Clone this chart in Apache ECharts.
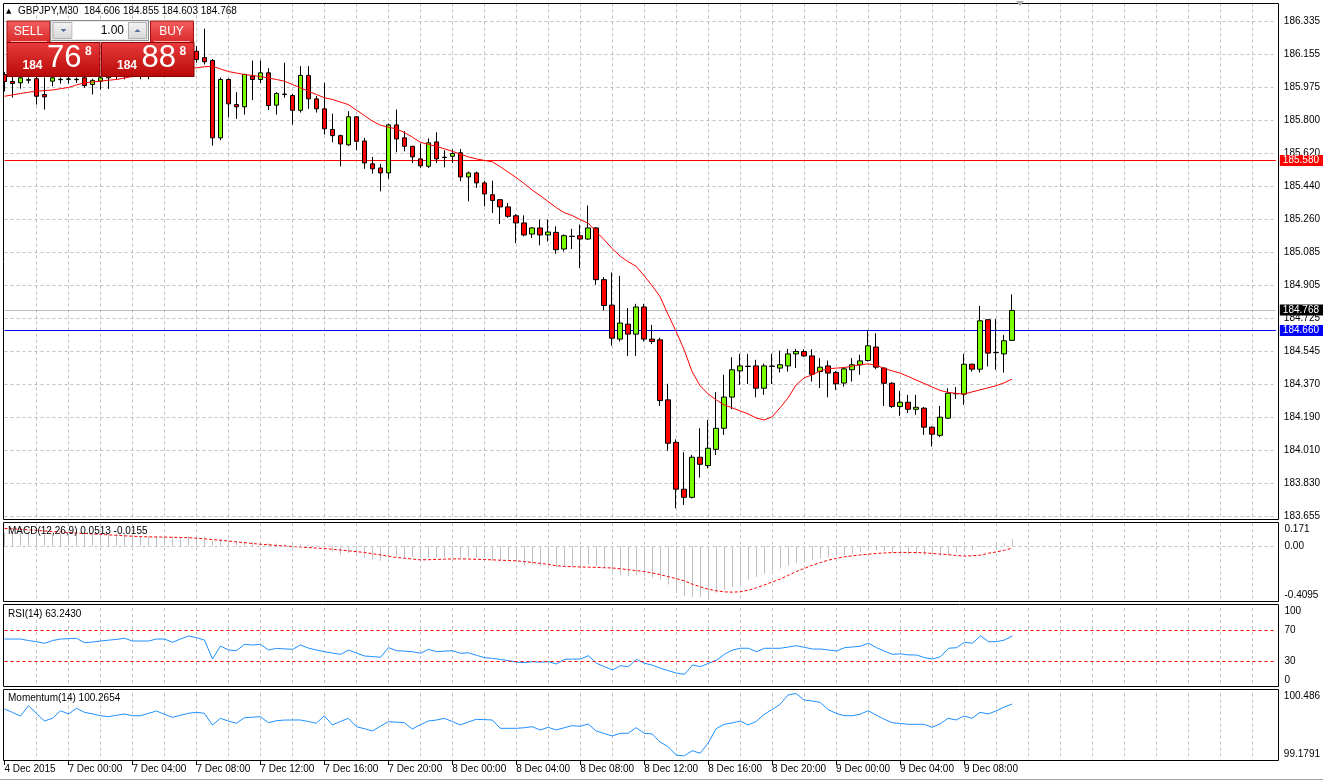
<!DOCTYPE html>
<html><head><meta charset="utf-8">
<script src="https://cdn.jsdelivr.net/npm/echarts@6/dist/echarts.min.js"></script>
<style>html,body{margin:0;padding:0;background:#fff}#c{width:1323px;height:781px}</style>
</head><body><div id="c"></div>
<script>
const symbolTitle = 'GBPJPY,M30  184.606 184.855 184.603 184.768';
const opens = [186.046,186.008,186.001,186.015,186.023,185.938,186.010,186.018,186.020,186.018,
 186.028,185.992,186.010,186.028,186.035,186.064,186.103,186.069,186.059,186.058,
 186.148,186.121,186.050,186.078,186.172,186.137,186.122,185.703,186.019,185.883,
 185.871,186.037,186.019,186.055,185.880,185.938,185.932,185.852,186.041,185.914,
 185.860,185.748,185.715,185.665,185.817,185.686,185.562,185.540,185.513,185.773,
 185.703,185.657,185.589,185.549,185.681,185.598,185.603,185.622,185.491,185.513,
 185.459,185.395,185.368,185.329,185.281,185.242,185.182,185.215,185.177,185.191,
 185.101,185.169,185.173,185.155,185.215,184.935,184.797,184.613,184.694,184.640,
 184.787,184.613,184.609,184.284,184.054,183.800,183.756,183.973,183.928,184.016,
 184.130,184.299,184.441,184.465,184.468,184.347,184.465,184.456,184.468,184.533,
 184.546,184.522,184.437,184.468,184.432,184.375,184.447,184.474,184.497,184.570,
 184.456,184.374,184.248,184.271,184.233,184.239,184.136,184.092,184.185,184.317,
 184.315,184.477,184.450,184.718,184.540,184.533,184.606];
const highs = [186.060,186.035,186.040,186.030,186.040,186.030,186.040,186.030,186.035,186.030,
 186.050,186.023,186.037,186.060,186.080,186.120,186.130,186.100,186.090,186.170,
 186.180,186.140,186.100,186.170,186.200,186.294,186.130,186.030,186.025,185.950,
 186.050,186.122,186.122,186.080,185.950,186.110,185.940,186.091,186.091,185.930,
 186.000,185.834,185.720,185.847,185.820,185.703,185.600,185.562,185.780,185.856,
 185.739,185.660,185.672,185.700,185.733,185.636,185.640,185.643,185.520,185.520,
 185.470,185.471,185.372,185.350,185.290,185.283,185.220,185.260,185.260,185.224,
 185.180,185.210,185.233,185.336,185.220,184.949,184.974,184.956,184.781,184.804,
 184.804,184.690,184.620,184.371,184.070,184.000,183.986,184.130,184.175,184.326,
 184.420,184.515,184.533,184.533,184.501,184.480,184.533,184.551,184.560,184.560,
 184.558,184.558,184.510,184.497,184.440,184.460,184.510,184.528,184.663,184.645,
 184.460,184.380,184.333,184.311,184.311,184.245,184.140,184.251,184.347,184.353,
 184.533,184.480,184.793,184.721,184.721,184.636,184.855];
const lows = [185.954,185.921,185.969,185.997,185.883,185.856,185.982,185.997,185.997,186.000,
 185.974,185.938,185.965,185.968,186.020,186.020,186.050,186.020,186.020,186.050,
 186.100,186.040,186.040,186.060,186.110,186.100,185.661,185.690,185.814,185.806,
 185.829,185.907,186.000,185.853,185.829,185.920,185.775,185.840,185.860,185.840,
 185.721,185.679,185.549,185.660,185.636,185.535,185.509,185.413,185.481,185.625,
 185.630,185.567,185.540,185.540,185.567,185.543,185.567,185.468,185.359,185.432,
 185.332,185.296,185.236,185.270,185.133,185.170,185.161,185.121,185.142,185.075,
 185.088,185.101,184.998,185.150,184.907,184.768,184.578,184.600,184.522,184.522,
 184.600,184.587,184.251,184.009,183.697,183.715,183.750,183.863,183.913,183.986,
 184.094,184.233,184.365,184.370,184.298,184.311,184.370,184.432,184.437,184.456,
 184.516,184.383,184.348,184.298,184.338,184.356,184.383,184.420,184.491,184.450,
 184.251,184.240,184.197,184.213,184.203,184.094,184.031,184.082,184.180,184.289,
 184.257,184.437,184.432,184.465,184.447,184.432,184.603];
const closes = [186.008,185.997,186.028,186.018,185.928,185.925,186.028,186.020,186.022,186.020,
 185.986,186.014,186.028,186.035,186.064,186.103,186.069,186.059,186.058,186.148,
 186.121,186.050,186.078,186.154,186.127,186.115,185.703,186.019,185.887,185.871,
 186.046,186.019,186.055,185.878,185.943,185.940,185.852,186.041,185.914,185.860,
 185.752,185.715,185.670,185.817,185.684,185.567,185.535,185.513,185.773,185.697,
 185.657,185.600,185.551,185.676,185.589,185.597,185.618,185.491,185.513,185.459,
 185.399,185.364,185.329,185.278,185.242,185.177,185.215,185.177,185.193,185.097,
 185.173,185.170,185.155,185.215,184.935,184.795,184.618,184.700,184.640,184.787,
 184.613,184.600,184.280,184.049,183.800,183.756,183.973,183.935,184.022,184.130,
 184.299,184.447,184.468,184.466,184.347,184.468,184.467,184.474,184.533,184.546,
 184.522,184.423,184.461,184.429,184.371,184.452,184.474,184.495,184.577,184.461,
 184.374,184.248,184.271,184.233,184.244,184.136,184.098,184.190,184.320,184.318,
 184.477,184.450,184.712,184.537,184.541,184.604,184.768];
const maValues = [185.928,185.936,185.943,185.950,185.955,185.959,185.962,185.969,185.976,185.989,
 186.001,186.005,186.010,186.015,186.019,186.027,186.035,186.043,186.051,186.058,
 186.065,186.070,186.075,186.080,186.082,186.088,186.091,186.076,186.062,186.054,
 186.046,186.041,186.035,186.027,186.019,186.010,185.992,185.974,185.955,185.938,
 185.920,185.911,185.897,185.883,185.854,185.824,185.794,185.772,185.760,185.752,
 185.732,185.707,185.679,185.668,185.657,185.644,185.630,185.615,185.600,185.589,
 185.581,185.573,185.547,185.517,185.488,185.455,185.420,185.390,185.358,185.325,
 185.298,185.282,185.260,185.241,185.195,185.151,185.103,185.062,185.032,185.007,
 184.956,184.902,184.842,184.745,184.654,184.555,184.436,184.360,184.316,184.284,
 184.257,184.241,184.224,184.208,184.186,184.175,184.192,184.241,184.295,184.365,
 184.403,184.419,184.441,184.452,184.456,184.459,184.466,184.474,184.479,184.471,
 184.455,184.441,184.429,184.411,184.392,184.373,184.354,184.335,184.325,184.319,
 184.315,184.327,184.338,184.349,184.360,184.376,184.396];
const macdMain = [0.100,0.099,0.098,0.097,0.092,0.087,0.088,0.089,0.090,0.091,
 0.089,0.089,0.090,0.090,0.091,0.092,0.090,0.075,0.072,0.075,
 0.075,0.070,0.070,0.073,0.072,0.068,0.040,0.050,0.042,0.030,
 0.035,0.033,0.032,0.020,0.018,0.016,0.010,0.017,0.012,0.005,
 -0.012,-0.042,-0.0675,-0.055,-0.0675,-0.087,-0.105,-0.1125,-0.087,-0.0795,
 -0.092,-0.087,-0.092,-0.087,-0.087,-0.087,-0.092,-0.087,-0.087,-0.092,
 -0.092,-0.1125,-0.117,-0.117,-0.117,-0.147,-0.1425,-0.1545,-0.1425,-0.162,
 -0.1545,-0.1545,-0.1545,-0.1425,-0.1545,-0.167,-0.192,-0.2175,-0.2295,-0.2175,
 -0.2295,-0.242,-0.255,-0.2925,-0.355,-0.3795,-0.387,-0.387,-0.4095,-0.355,
 -0.330,-0.310,-0.280,-0.255,-0.235,-0.210,-0.190,-0.170,-0.150,-0.130,
 -0.115,-0.105,-0.095,-0.085,-0.078,-0.068,-0.058,-0.048,-0.035,-0.035,
 -0.040,-0.050,-0.055,-0.060,-0.062,-0.070,-0.078,-0.075,-0.062,-0.055,
 -0.040,-0.032,-0.008,0.000,0.008,0.020,0.0513];
const macdSignal = [0.133,0.130,0.126,0.122,0.118,0.114,0.110,0.106,0.102,0.098,
 0.095,0.091,0.088,0.084,0.081,0.077,0.074,0.0705,0.069,0.068,
 0.067,0.066,0.064,0.063,0.059,0.054,0.048,0.043,0.0375,0.031,
 0.025,0.019,0.013,0.009,0.004,0.000,-0.0045,-0.008,-0.012,-0.016,
 -0.020,-0.025,-0.031,-0.037,-0.043,-0.0495,-0.059,-0.068,-0.078,-0.087,
 -0.093,-0.099,-0.105,-0.104,-0.102,-0.100,-0.098,-0.0975,-0.099,-0.101,
 -0.103,-0.105,-0.108,-0.110,-0.1125,-0.119,-0.125,-0.132,-0.140,-0.150,
 -0.155,-0.157,-0.159,-0.161,-0.162,-0.165,-0.167,-0.173,-0.180,-0.187,
 -0.194,-0.205,-0.218,-0.233,-0.248,-0.265,-0.290,-0.310,-0.328,-0.340,
 -0.348,-0.350,-0.347,-0.335,-0.317,-0.295,-0.272,-0.250,-0.222,-0.193,
 -0.170,-0.145,-0.126,-0.107,-0.094,-0.082,-0.075,-0.068,-0.062,-0.057,
 -0.053,-0.050,-0.049,-0.049,-0.0495,-0.052,-0.057,-0.062,-0.066,-0.072,
 -0.077,-0.074,-0.070,-0.055,-0.045,-0.032,-0.0155];
const rsiValues = [59,59,59,57,55.5,53.4,57,59,59.5,60,
 54.2,55,56.4,57.5,58.5,60,56.4,56.4,56.4,59,
 59,54.7,59,63,60.8,57.7,32.6,49.8,44.5,43.6,
 52,51.1,52,44.5,46.7,46,45.4,51.1,47,44.5,
 42.3,40.5,38.8,44.5,40.5,36.6,35.8,34.9,47.6,43.6,
 43,42.3,40.2,45.4,42.3,43,43.6,40.2,40.8,37.5,
 34.4,33.5,32,30.5,28.5,27.8,29.1,28.5,29.1,26,
 32.2,32.5,32.6,37,27,22.5,18.1,23.8,22.5,32.2,
 27,24.5,20.4,17.2,14,12.4,24.7,22.5,27,31,
 39,44.5,46.8,46.8,42.3,46.8,46.8,46.8,48.5,50.2,
 48,45.8,45.8,44.5,43.2,47.6,48.5,49.5,53.4,47.6,
 43,38.8,39.5,38,37.9,34.5,32.6,35.7,46.8,47.6,
 54.7,53.4,63.4,55.5,55.5,57.7,63.243];
const momValues = [100.162,100.09,100.015,100.231,100.07,99.911,99.967,100.126,100.057,100.176,
 100.093,100.06,100.022,100.001,100.03,100.057,100.022,100.022,100.07,100.12,
 100.05,99.988,100.03,100.072,100.093,100.072,99.827,99.967,99.91,99.863,
 99.98,99.99,100.001,99.876,99.917,99.93,99.932,99.932,99.9,99.863,
 100.022,99.827,99.9,99.967,99.792,99.75,99.702,99.8,99.896,99.886,
 99.876,99.744,99.83,99.911,99.93,99.967,99.9,99.827,99.89,99.946,
 99.94,99.932,99.758,99.758,99.758,99.77,99.792,99.723,99.779,99.723,
 99.77,99.813,99.8,99.848,99.702,99.65,99.597,99.654,99.654,99.771,
 99.654,99.639,99.47,99.374,99.2,99.1791,99.29,99.236,99.45,99.75,
 99.842,99.87,99.911,99.827,99.9,100.05,100.15,100.26,100.455,100.486,
 100.35,100.33,100.302,100.15,100.072,100.022,100.022,100.05,100.126,100.036,
 99.95,99.876,99.86,99.842,99.842,99.842,99.779,99.85,99.967,99.932,
 100.015,99.967,100.093,100.057,100.12,100.2,100.2654];
const priceTickLabels = ['183.655','183.830','184.010','184.190','184.370','184.545','184.725','184.905','185.085','185.260','185.440','185.620','185.800','185.975','186.155','186.335'];
const xTickLabels = ['4 Dec 2015','7 Dec 00:00','7 Dec 04:00','7 Dec 08:00','7 Dec 12:00','7 Dec 16:00','7 Dec 20:00','8 Dec 00:00','8 Dec 04:00','8 Dec 08:00','8 Dec 12:00','8 Dec 16:00','8 Dec 20:00','9 Dec 00:00','9 Dec 04:00','9 Dec 08:00'];
const levelLines = [{value:185.580, label:'185.580', color:'#ff0000'},{value:184.660, label:'184.660', color:'#0000ff'}];
const bidPrice = {value:184.768, label:'184.768'};
const macdLabels = {max:0.171, zero:0, min:-0.4095};
const momRange = {min:99.1791, max:100.486};
const indicatorNames = ['MACD(12,26,9) 0.0513 -0.0155','RSI(14) 63.2430','Momentum(14) 100.2654'];
const ticket = {lot:'1.00', sellBig:'76', buyBig:'88', handle:'184', pip:'8'};

// categories: bar times (30-minute bars, weekend gap after 4 Dec 23:30)
const barTimes = [];
for (let i = 0; i < closes.length; i++) {
  let day, m;
  if (i < 8) { day = 4; m = 20 * 60 + i * 30; }
  else { const t = (i - 8) * 30; day = 7 + Math.floor(t / 1440); m = t % 1440; }
  barTimes.push(day + ' Dec ' + String(Math.floor(m / 60)).padStart(2, '0') + ':' + String(m % 60).padStart(2, '0'));
}
const SLOTS = 160;
const cats = barTimes.concat(new Array(SLOTS - barTimes.length).fill(''));
const candleData = opens.map((o, i) => [o, closes[i], lows[i], highs[i]]);

const FONT = '"Liberation Sans", Arial, sans-serif';
const GL = 4.5, GW = 1272;
const grids = [
  {left: GL, width: GW, top: 3.5, height: 512.5},
  {left: GL, width: GW, top: 523.4, height: 76.6},
  {left: GL, width: GW, top: 608, height: 75.7},
  {left: GL, width: GW, top: 693.5, height: 62.5}
];
const gridDash = {color: '#c0c0c0', type: [3, 3], width: 1};
function xAx(idx, last) {
  return {
    type: 'category', gridIndex: idx, data: cats, boundaryGap: false,
    axisLine: {show: false},
    axisTick: last ? {show: true, length: 4, interval: (i) => i % 8 === 0 && i / 8 < xTickLabels.length, lineStyle: {color: '#000'}} : {show: false},
    axisLabel: last ? {
      show: true, interval: (i) => i % 8 === 0 && i / 8 < xTickLabels.length,
      formatter: (v, i) => (i % 8 === 0 && i / 8 < xTickLabels.length) ? xTickLabels[i / 8] : '',
      align: 'left', margin: 3, fontSize: 10, color: '#000', fontFamily: FONT
    } : {show: false},
    offset: last ? 5 : 0,
    splitLine: {show: true, interval: (i) => i > 0 && i % 4 === 0, lineStyle: gridDash}
  };
}
const labelBase = {fontSize: 10, color: '#000', fontFamily: FONT, margin: 8};
const PMIN = 183.655, PSTEP = (186.335 - 183.655) / 15;

const option = {
  animation: false,
  backgroundColor: '#fff',
  grid: grids,
  xAxis: [xAx(0, false), xAx(1, false), xAx(2, false), xAx(3, true)],
  yAxis: [
    {type: 'value', gridIndex: 0, position: 'right', min: PMIN, max: 186.4305, interval: PSTEP,
      axisLine: {show: false}, axisTick: {show: false},
      axisLabel: Object.assign({}, labelBase, {formatter: (v) => {
        const k = Math.round((v - PMIN) / PSTEP);
        return (k >= 0 && k < priceTickLabels.length && Math.abs(v - (PMIN + k * PSTEP)) < 1e-4) ? priceTickLabels[k] : '';
      }}),
      splitLine: {show: true, lineStyle: gridDash}},
    {type: 'value', gridIndex: 1, position: 'right', min: macdLabels.min, max: macdLabels.max, interval: -macdLabels.min,
      axisLine: {show: false}, axisTick: {show: false}, splitLine: {show: false},
      axisLabel: Object.assign({}, labelBase, {
        formatter: (v) => Math.abs(v - macdLabels.max) < 1e-6 ? '{t|0.171}' : (Math.abs(v) < 1e-6 ? '0.00' : (Math.abs(v - macdLabels.min) < 1e-6 ? '{b|-0.4095}' : '')),
        rich: {t: {padding: [11, 0, 0, 0], fontSize: 10, fontFamily: FONT, color: '#000'}, b: {padding: [0, 0, 10, 0], fontSize: 10, fontFamily: FONT, color: '#000'}}
      })},
    {type: 'value', gridIndex: 2, position: 'right', min: 0, max: 100, interval: 10,
      axisLine: {show: false}, axisTick: {show: false}, splitLine: {show: false},
      axisLabel: Object.assign({}, labelBase, {
        formatter: (v) => v === 100 ? '{t|100}' : (v === 70 ? '70' : (v === 30 ? '30' : (v === 0 ? '{b|0}' : ''))),
        rich: {t: {padding: [7, 0, 0, 0], fontSize: 10, fontFamily: FONT, color: '#000'}, b: {padding: [0, 0, 7, 0], fontSize: 10, fontFamily: FONT, color: '#000'}}
      })},
    {type: 'value', gridIndex: 3, position: 'right', min: momRange.min, max: momRange.max, interval: +(momRange.max - momRange.min).toFixed(4),
      axisLine: {show: false}, axisTick: {show: false}, splitLine: {show: false},
      axisLabel: Object.assign({}, labelBase, {
        formatter: (v) => Math.abs(v - momRange.max) < 1e-4 ? '{t|100.486}' : (Math.abs(v - momRange.min) < 1e-4 ? '{b|99.1791}' : ''),
        rich: {t: {padding: [6, 0, 0, 0], fontSize: 10, fontFamily: FONT, color: '#000'}, b: {padding: [0, 0, 4, 0], fontSize: 10, fontFamily: FONT, color: '#000'}}
      })}
  ],
  series: [
    {type: 'candlestick', xAxisIndex: 0, yAxisIndex: 0, data: candleData, barWidth: 5, clip: false,
      itemStyle: {color: '#7cfc00', color0: '#ff0000', borderColor: '#000', borderColor0: '#000', borderWidth: 1},
      markLine: {symbol: ['none', 'none'], silent: true, animation: false, z: 1,
        data: levelLines.map(l => ({yAxis: l.value, lineStyle: {color: l.color, width: 1, type: 'solid'},
          label: {show: true, position: 'end', distance: 4, formatter: l.label, color: '#fff', backgroundColor: l.color, padding: [1, 12, 0, 3], fontSize: 10, fontFamily: FONT}}))
          .concat([{yAxis: bidPrice.value, lineStyle: {color: '#c0c0c0', width: 1, type: 'solid'},
          label: {show: true, position: 'end', distance: 4, formatter: bidPrice.label, color: '#fff', backgroundColor: '#000', padding: [1, 12, 0, 3], fontSize: 10, fontFamily: FONT}}])
      }},
    {type: 'line', xAxisIndex: 0, yAxisIndex: 0, data: maValues, symbol: 'none', lineStyle: {color: '#ff0000', width: 1}, z: 3},
    {type: 'bar', xAxisIndex: 1, yAxisIndex: 1, data: macdMain, barWidth: 1, itemStyle: {color: '#c0c0c0'},
      markLine: {symbol: ['none', 'none'], silent: true, label: {show: false}, data: [{yAxis: 0}], lineStyle: {color: '#c0c0c0', type: [3, 3], width: 1}}},
    {type: 'line', xAxisIndex: 1, yAxisIndex: 1, data: macdSignal, symbol: 'none', lineStyle: {color: '#ff0000', width: 1, type: [3, 2]}},
    {type: 'line', xAxisIndex: 2, yAxisIndex: 2, data: rsiValues, symbol: 'none', lineStyle: {color: '#1e90ff', width: 1},
      markLine: {symbol: ['none', 'none'], silent: true, label: {show: false}, data: [{yAxis: 70}, {yAxis: 30}], lineStyle: {color: '#ff0000', type: [3, 3], width: 1}}},
    {type: 'line', xAxisIndex: 3, yAxisIndex: 3, data: momValues, symbol: 'none', lineStyle: {color: '#1e90ff', width: 1}}
  ],
  graphic: buildGraphics()
};

function buildGraphics() {
  const g = [];
  const frames = [[3.5, 519.5], [522.5, 601.5], [604.5, 686.5], [689.5, 760.5]];
  g.push({type: 'rect', shape: {x: 0, y: 0, width: 3, height: 781}, style: {fill: '#fff'}, z: 90, silent: true});
  frames.forEach(f => g.push({type: 'rect', shape: {x: 3.5, y: f[0], width: 1275, height: f[1] - f[0]}, style: {fill: 'none', stroke: '#000', lineWidth: 1}, z: 100, silent: true}));
  g.push({type: 'line', shape: {x1: 0, y1: 779.5, x2: 1323, y2: 779.5}, style: {stroke: '#a0a0a0', lineWidth: 1}, z: 100});
  g.push({type: 'polygon', shape: {points: [[1016, 1], [1024, 1], [1020, 6]]}, style: {fill: '#b0b0b0'}, z: 100});
  g.push({type: 'text', x: 6, y: 11, style: {text: '\u25B2', font: '7px "DejaVu Sans"', fill: '#000', verticalAlign: 'middle'}, z: 100});
  g.push({type: 'text', x: 18, y: 11.5, style: {text: symbolTitle, font: '10px ' + FONT, fill: '#000', verticalAlign: 'middle'}, z: 100});
  const ys = [531, 614, 698];
  indicatorNames.forEach((t, i) => g.push({type: 'text', x: 8, y: ys[i], style: {text: t, font: '10px ' + FONT, fill: '#000', verticalAlign: 'middle'}, z: 100}));
  const btnGrad = {type: 'linear', x: 0, y: 0, x2: 0, y2: 1, colorStops: [{offset: 0, color: '#f46060'}, {offset: 1, color: '#d82626'}]};
  const boxGrad = {type: 'linear', x: 0, y: 0, x2: 0, y2: 1, colorStops: [{offset: 0, color: '#ea3c3c'}, {offset: 1, color: '#b80808'}]};
  const greyGrad = {type: 'linear', x: 0, y: 0, x2: 0, y2: 1, colorStops: [{offset: 0, color: '#f4f4f4'}, {offset: 1, color: '#d6d6d6'}]};
  const Z = 120;
  g.push({type: 'rect', shape: {x: 7, y: 21, width: 43, height: 22}, style: {fill: btnGrad, stroke: '#a01010', lineWidth: 1}, z: Z});
  g.push({type: 'rect', shape: {x: 150.5, y: 21, width: 43, height: 22}, style: {fill: btnGrad, stroke: '#a01010', lineWidth: 1}, z: Z});
  g.push({type: 'line', shape: {x1: 11, y1: 41.5, x2: 47, y2: 41.5}, style: {stroke: '#ffb0b0', lineWidth: 1}, z: Z + 1});
  g.push({type: 'line', shape: {x1: 154, y1: 41.5, x2: 190, y2: 41.5}, style: {stroke: '#ffb0b0', lineWidth: 1}, z: Z + 1});
  g.push({type: 'text', x: 28.5, y: 31.5, style: {text: 'SELL', font: '12px ' + FONT, fill: '#fff', align: 'center', verticalAlign: 'middle'}, z: Z + 1});
  g.push({type: 'text', x: 171.5, y: 31.5, style: {text: 'BUY', font: '12px ' + FONT, fill: '#fff', align: 'center', verticalAlign: 'middle'}, z: Z + 1});
  g.push({type: 'rect', shape: {x: 50.5, y: 20.5, width: 98, height: 20}, style: {fill: '#e8e8e8', stroke: '#8a8a8a', lineWidth: 1}, z: Z});
  g.push({type: 'rect', shape: {x: 53, y: 22.5, width: 19, height: 16}, style: {fill: greyGrad, stroke: '#b0b0b0', lineWidth: 1}, z: Z + 1});
  g.push({type: 'rect', shape: {x: 128.5, y: 22.5, width: 18, height: 16}, style: {fill: greyGrad, stroke: '#b0b0b0', lineWidth: 1}, z: Z + 1});
  g.push({type: 'rect', shape: {x: 72.5, y: 22, width: 55.5, height: 17}, style: {fill: '#fff'}, z: Z + 1});
  g.push({type: 'polygon', shape: {points: [[60.5, 29], [66.5, 29], [63.5, 32]]}, style: {fill: '#5570a0'}, z: Z + 2});
  g.push({type: 'polygon', shape: {points: [[134.5, 32], [140.5, 32], [137.5, 29]]}, style: {fill: '#5570a0'}, z: Z + 2});
  g.push({type: 'text', x: 124, y: 31, style: {text: ticket.lot, font: '12px ' + FONT, fill: '#000', align: 'right', verticalAlign: 'middle'}, z: Z + 2});
  g.push({type: 'rect', shape: {x: 7, y: 42.5, width: 93, height: 34}, style: {fill: boxGrad, stroke: '#900000', lineWidth: 1}, z: Z});
  g.push({type: 'rect', shape: {x: 101.5, y: 42.5, width: 92.5, height: 34}, style: {fill: boxGrad, stroke: '#900000', lineWidth: 1}, z: Z});
  [[7, ticket.sellBig], [101.5, ticket.buyBig]].forEach(([x0, big]) => {
    g.push({type: 'text', x: x0 + 15.5, y: 66, style: {text: ticket.handle, font: 'bold 12px ' + FONT, fill: '#fff', verticalAlign: 'middle'}, z: Z + 2});
    g.push({type: 'text', x: x0 + 40, y: 58, style: {text: big, font: '31px ' + FONT, fill: '#fff', verticalAlign: 'middle'}, z: Z + 2});
    g.push({type: 'text', x: x0 + 78, y: 51.5, style: {text: ticket.pip, font: 'bold 12px ' + FONT, fill: '#fff', verticalAlign: 'middle'}, z: Z + 2});
  });
  return g;
}

const chart = echarts.init(document.getElementById('c'), null, {renderer: 'canvas'});
chart.setOption(option);
</script>
</body></html>
